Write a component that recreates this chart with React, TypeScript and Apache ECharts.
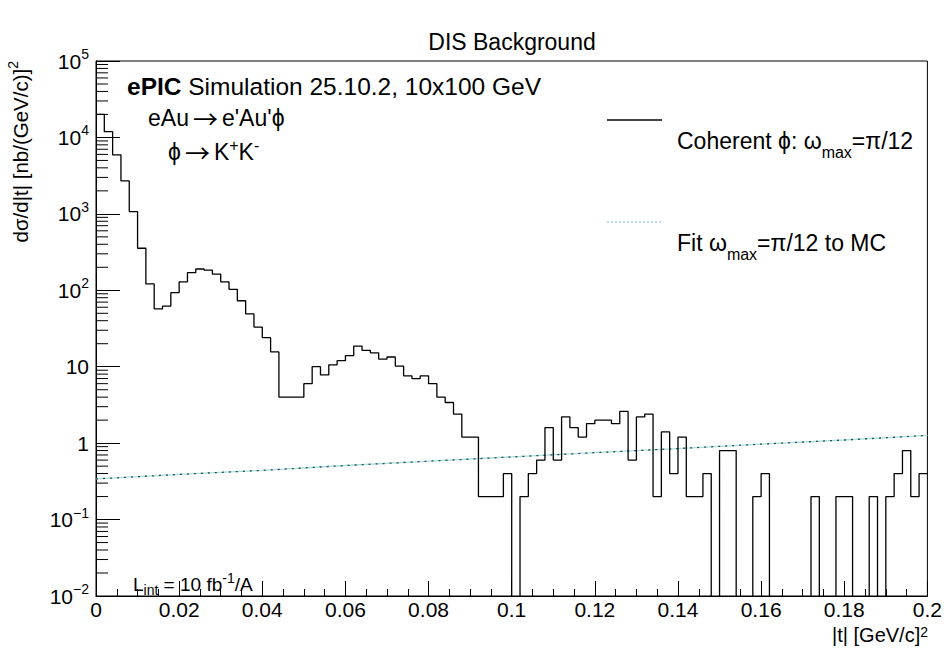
import React, { useEffect, useRef } from "react";
import * as echarts from "echarts";

// Histogram: 100 bins of width 0.002 in |t| from 0 to 0.2
const binWidth = 0.002;
const counts = [
  20000, 11900, 5900, 2700, 1070, 355, 121, 57, 62, 93,
  129, 170, 190, 184, 163, 129, 103, 73, 49, 33,
  24, 15.6, 4, 4, 4, 6, 10, 7.8, 10.6, 12,
  14, 18.6, 16.4, 15.2, 12.6, 13.4, 10.2, 7.6, 7, 7.6,
  6, 4, 3.4, 2.4, 1.2, 1.2, 0.2, 0.2, 0.2, 0.4,
  0, 0.2, 0.4, 0.6, 1.6, 0.6, 2.2, 1.6, 1.2, 1.8,
  2.0, 2.0, 1.8, 2.6, 0.6, 2.2, 2.4, 0.2, 1.4, 0.4,
  1.2, 0.2, 0.2, 0.4, 0, 0.8, 0.8, 0, 0, 0.2,
  0.4, 0, 0, 0, 0, 0, 0.2, 0, 0, 0.2,
  0.2, 0, 0, 0.2, 0, 0.2, 0.4, 0.8, 0.2, 0.4,
];

// Fit curve
const fitT = [0, 0.02, 0.04, 0.06, 0.08, 0.1, 0.12, 0.14, 0.16, 0.18, 0.2];
const fitV = [0.34, 0.39, 0.44, 0.51, 0.58, 0.66, 0.75, 0.85, 0.97, 1.1, 1.26];

const xTickLabels = ["0", "0.02", "0.04", "0.06", "0.08", "0.1", "0.12", "0.14", "0.16", "0.18", "0.2"];
const yDecades = [-2, -1, 0, 1, 2, 3, 4, 5];
const yMinorMultipliers = [2, 3, 4, 5, 6, 7, 8, 9];

const FONT = '"Liberation Sans", Arial, Helvetica, sans-serif';
const ARROW = '"Noto Sans CJK SC", "Liberation Sans", sans-serif';

export default function App() {
  const ref = useRef<HTMLDivElement>(null);

  useEffect(() => {
    if (!ref.current) return;
    const chart = echarts.init(ref.current, undefined, { renderer: "svg" });

    const histData: number[][] = counts.map((c, i) => [i * binWidth, c > 0 ? c : 1e-4]);
    histData.push([counts.length * binWidth, counts[counts.length - 1]]);

    const yMinor: number[][] = [];
    for (let k = 0; k < yDecades.length - 1; k++) {
      for (const m of yMinorMultipliers) yMinor.push([0, m * Math.pow(10, yDecades[k])]);
    }

    const fitData = fitT.map((t, i) => [t, fitV[i]]);

    const yLabel = (v: number) => {
      const e = Math.round(Math.log10(v));
      if (e === 0) return "1";
      if (e === 1) return "10";
      return `{b|10}{s|${e < 0 ? "\u2212" + -e : e}}`;
    };

    const option: any = {
      animation: false,
      grid: {
        left: 96,
        right: 17,
        top: 61,
        bottom: 54,
        show: true,
        borderColor: "#000",
        borderWidth: 1,
      },
      xAxis: {
        type: "value",
        min: 0,
        max: 0.2,
        interval: 0.02,
        axisLine: { show: true, onZero: false, lineStyle: { color: "#000", width: 1 } },
        axisTick: { show: true, inside: true, length: 15, lineStyle: { color: "#000" } },
        minorTick: { show: true, splitNumber: 4, length: 7, lineStyle: { color: "#000" } },
        splitLine: { show: false },
        axisLabel: {
          color: "#000",
          fontSize: 21,
          fontFamily: FONT,
          margin: 3,
          lineHeight: 21,
          formatter: (v: number) => {
            const idx = Math.round(v / 0.02);
            return xTickLabels[idx] ?? String(v);
          },
        },
      },
      yAxis: {
        type: "log",
        logBase: 10,
        min: 0.01,
        max: 100000,
        splitNumber: 7,
        axisLine: { show: true, lineStyle: { color: "#000", width: 1 } },
        axisTick: { show: true, inside: true, length: 24, lineStyle: { color: "#000" } },
        splitLine: { show: false },
        axisLabel: {
          color: "#000",
          fontSize: 21,
          fontFamily: FONT,
          margin: 7,
          lineHeight: 28,
          formatter: yLabel,
          rich: {
            b: { fontSize: 21, fontFamily: FONT, color: "#000", lineHeight: 28 },
            s: { fontSize: 14, fontFamily: FONT, color: "#000", lineHeight: 14, verticalAlign: "top" },
          },
        },
      },
      series: [
        {
          type: "custom",
          silent: true,
          clip: false,
          z: 5,
          data: yMinor,
          encode: { x: 0, y: 1 },
          renderItem: (_params: any, api: any) => {
            const p = api.coord([0, api.value(1)]);
            return {
              type: "line",
              shape: { x1: p[0], y1: p[1], x2: p[0] + 12, y2: p[1] },
              style: { stroke: "#000", lineWidth: 1 },
            };
          },
        },
        {
          type: "line",
          data: fitData,
          showSymbol: false,
          silent: true,
          lineStyle: { color: "#a8dfe0", width: 1.3 },
          z: 3,
        },
        {
          type: "line",
          data: fitData,
          showSymbol: false,
          silent: true,
          lineStyle: { color: "#2f4a4a", width: 1.3, type: [2, 5] },
          z: 3,
        },
        {
          type: "line",
          data: histData,
          step: "end",
          showSymbol: false,
          silent: true,
          clip: true,
          lineStyle: { color: "#000", width: 1.3 },
          z: 4,
        },
      ],
      graphic: [
        {
          type: "text",
          x: 512,
          y: 42,
          style: {
            text: "DIS Background",
            fontSize: 23,
            fontFamily: FONT,
            fill: "#000",
            align: "center",
            verticalAlign: "middle",
          },
        },
        {
          type: "text",
          x: 127,
          y: 86,
          style: {
            text: "{b|ePIC} Simulation 25.10.2, 10x100 GeV",
            fontSize: 24.5,
            fontFamily: FONT,
            fill: "#000",
            align: "left",
            verticalAlign: "middle",
            rich: { b: { fontSize: 24.5, fontFamily: FONT, fontWeight: "bold", fill: "#000" } },
          },
        },
        {
          type: "text",
          x: 148,
          y: 118,
          style: {
            text: "eAu{ar|\u2192}e'Au'\u03d5",
            fontSize: 23,
            fontFamily: FONT,
            fill: "#000",
            align: "left",
            verticalAlign: "middle",
            rich: { ar: { fontSize: 25, fontFamily: ARROW, fill: "#000", padding: [0, 4, 0, 4] } },
          },
        },
        {
          type: "text",
          x: 168,
          y: 152,
          style: {
            text: "\u03d5{ar|\u2192}K{sup|+}K{sup|-}",
            fontSize: 23,
            fontFamily: FONT,
            fill: "#000",
            lineHeight: 30,
            align: "left",
            verticalAlign: "middle",
            rich: {
              ar: { fontSize: 25, fontFamily: ARROW, fill: "#000", lineHeight: 30, padding: [0, 4, 0, 4] },
              sup: { fontSize: 16, fontFamily: FONT, fill: "#000", lineHeight: 16, verticalAlign: "top" },
            },
          },
        },
        {
          type: "line",
          shape: { x1: 607, y1: 120, x2: 662, y2: 120 },
          style: { stroke: "#000", lineWidth: 1.3 },
        },
        {
          type: "text",
          x: 677,
          y: 141,
          style: {
            text: "Coherent \u03d5: \u03c9{sub|max}=\u03c0/12",
            fontSize: 23,
            fontFamily: FONT,
            fill: "#000",
            lineHeight: 38,
            align: "left",
            verticalAlign: "middle",
            rich: {
              sub: { fontSize: 16, fontFamily: FONT, fill: "#000", lineHeight: 16, verticalAlign: "bottom" },
            },
          },
        },
        {
          type: "line",
          shape: { x1: 607, y1: 222, x2: 662, y2: 222 },
          style: { stroke: "#9fd6df", lineWidth: 1.3, lineDash: [2, 2] },
        },
        {
          type: "text",
          x: 677,
          y: 243,
          style: {
            text: "Fit \u03c9{sub|max}=\u03c0/12 to MC",
            fontSize: 23,
            fontFamily: FONT,
            fill: "#000",
            lineHeight: 38,
            align: "left",
            verticalAlign: "middle",
            rich: {
              sub: { fontSize: 16, fontFamily: FONT, fill: "#000", lineHeight: 16, verticalAlign: "bottom" },
            },
          },
        },
        {
          type: "text",
          x: 133,
          y: 584,
          style: {
            text: "L{sub|int} = 10 fb{sup|-1}/A",
            fontSize: 19,
            fontFamily: FONT,
            fill: "#000",
            lineHeight: 26,
            align: "left",
            verticalAlign: "middle",
            rich: {
              sub: { fontSize: 14, fontFamily: FONT, fill: "#000", lineHeight: 14, verticalAlign: "bottom" },
              sup: { fontSize: 14, fontFamily: FONT, fill: "#000", lineHeight: 14, verticalAlign: "top" },
            },
          },
        },
        {
          type: "text",
          x: 928,
          y: 635,
          style: {
            text: "|t| [GeV/c]{sup|2}",
            fontSize: 20,
            fontFamily: FONT,
            fill: "#000",
            lineHeight: 20,
            align: "right",
            verticalAlign: "middle",
            rich: {
              sup: { fontSize: 14, fontFamily: FONT, fill: "#000", lineHeight: 12, verticalAlign: "top" },
            },
          },
        },
        {
          type: "text",
          x: 20,
          y: 61,
          rotation: Math.PI / 2,
          style: {
            text: "d\u03c3/d|t| [nb/(GeV/c)]{sup|2}",
            fontSize: 20.5,
            fontFamily: FONT,
            fill: "#000",
            lineHeight: 28,
            align: "right",
            verticalAlign: "middle",
            rich: {
              sup: { fontSize: 14, fontFamily: FONT, fill: "#000", lineHeight: 14, verticalAlign: "top" },
            },
          },
        },
      ],
    };

    chart.setOption(option);
    return () => chart.dispose();
  }, []);

  return (
    <div
      ref={ref}
      style={{ position: "fixed", left: 0, top: 0, width: 945, height: 650, background: "#fff" }}
    />
  );
}
